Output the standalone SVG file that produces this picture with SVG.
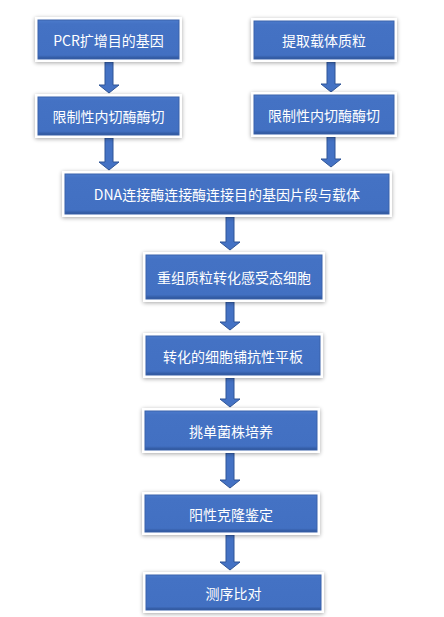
<svg xmlns="http://www.w3.org/2000/svg" width="444" height="617" viewBox="0 0 444 617">
<defs>
<filter id="sh" x="-10%" y="-20%" width="120%" height="140%">
<feGaussianBlur in="SourceAlpha" stdDeviation="2"/>
<feOffset dx="0" dy="1" result="b"/>
<feComponentTransfer><feFuncA type="linear" slope="0.35"/></feComponentTransfer>
<feMerge><feMergeNode/><feMergeNode in="SourceGraphic"/></feMerge>
</filter>
<linearGradient id="bg" x1="0" y1="0" x2="0" y2="1">
<stop offset="0" stop-color="#4c7bcc"/>
<stop offset="0.1" stop-color="#4472c4"/>
<stop offset="0.9" stop-color="#4270c2"/>
<stop offset="1" stop-color="#2c5296"/>
</linearGradient>
</defs>
<style>
.o{fill:#fff;filter:url(#sh)}
.b{fill:url(#bg);stroke:#3a63ab;stroke-width:1}
.t{fill:#fff;font-family:"Noto Sans CJK SC","Noto Sans",sans-serif;font-size:14px;text-anchor:middle;dominant-baseline:central}
.a{fill:#4472c4;stroke:#2f5597;stroke-width:1}
</style>
<rect width="444" height="617" fill="#fff"/>
<g id="connectors">
<path class="a" d="M105,62 h8 v23 h6 l-10,8 l-10,-8 h6 z"/>
<path class="a" d="M105,138 h8 v24 h6 l-10,8 l-10,-8 h6 z"/>
<path class="a" d="M327,62 h8 v22 h6 l-10,8 l-10,-8 h6 z"/>
<path class="a" d="M327,137 h8 v22 h6 l-10,8 l-10,-8 h6 z"/>
<path class="a" d="M226,217 h8 v25 h6 l-10,8 l-10,-8 h6 z"/>
<path class="a" d="M226,302 h8 v20 h6 l-10,8 l-10,-8 h6 z"/>
<path class="a" d="M226,378 h8 v21 h6 l-10,8 l-10,-8 h6 z"/>
<path class="a" d="M226,453 h8 v27 h6 l-10,8 l-10,-8 h6 z"/>
<path class="a" d="M226,535 h8 v27 h6 l-10,8 l-10,-8 h6 z"/>
</g>
<g id="n1"><rect class="o" x="35" y="17" width="147" height="45"/><rect class="b" x="38" y="20" width="141" height="39"/><text class="t" x="108.5" y="39.5">PCR扩增目的基因</text></g>
<g id="n2"><rect class="o" x="35" y="94" width="147" height="44"/><rect class="b" x="38" y="97" width="141" height="38"/><text class="t" x="108.5" y="116">限制性内切酶酶切</text></g>
<g id="n3"><rect class="o" x="251" y="18" width="146" height="44"/><rect class="b" x="254" y="21" width="140" height="38"/><text class="t" x="324" y="40">提取载体质粒</text></g>
<g id="n4"><rect class="o" x="251" y="92" width="146" height="45"/><rect class="b" x="254" y="95" width="140" height="39"/><text class="t" x="324" y="114.5">限制性内切酶酶切</text></g>
<g id="n5"><rect class="o" x="62" y="171" width="330" height="46"/><rect class="b" x="65" y="174" width="324" height="40"/><text class="t" x="227" y="194">DNA连接酶连接酶连接目的基因片段与载体</text></g>
<g id="n6"><rect class="o" x="143" y="252" width="182" height="50"/><rect class="b" x="146" y="255" width="176" height="44"/><text class="t" x="234" y="277">重组质粒转化感受态细胞</text></g>
<g id="n7"><rect class="o" x="143" y="333" width="180" height="45"/><rect class="b" x="146" y="336" width="174" height="39"/><text class="t" x="233" y="355.5">转化的细胞铺抗性平板</text></g>
<g id="n8"><rect class="o" x="142" y="408" width="178" height="45"/><rect class="b" x="145" y="411" width="172" height="39"/><text class="t" x="231" y="430.5">挑单菌株培养</text></g>
<g id="n9"><rect class="o" x="142" y="492" width="178" height="43"/><rect class="b" x="145" y="495" width="172" height="37"/><text class="t" x="231" y="513.5">阳性克隆鉴定</text></g>
<g id="n10"><rect class="o" x="143" y="572" width="181" height="41"/><rect class="b" x="146" y="575" width="175" height="35"/><text class="t" x="233.5" y="592.5">测序比对</text></g>
</svg>
